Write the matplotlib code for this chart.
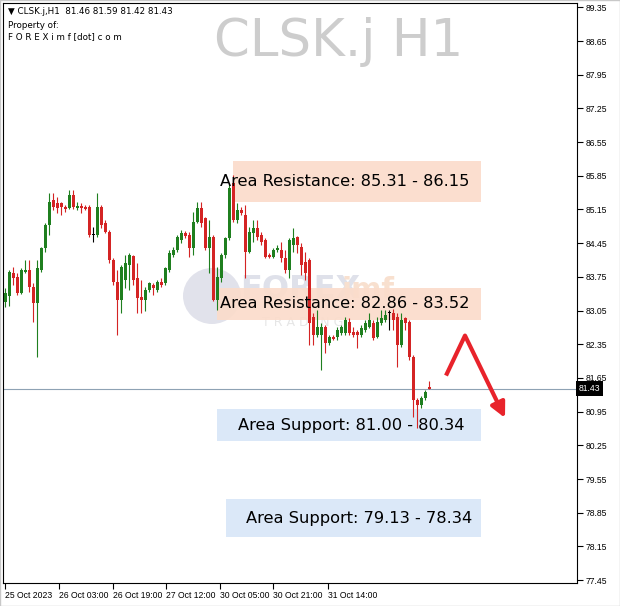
import matplotlib.pyplot as plt
from matplotlib.patches import Rectangle, Ellipse

# H1 candles (oldest first)
opens = [83.23, 83.35, 83.83, 83.75, 83.42, 83.85, 83.89, 83.54, 83.21, 83.89,
         84.35, 84.83, 85.35, 85.29, 85.29, 85.20, 85.18, 85.45, 85.18, 85.22,
         85.20, 85.20, 84.62, 84.62, 85.20, 84.87, 84.68, 84.10, 83.64, 83.27,
         83.68, 84.00, 84.19, 83.73, 83.33, 83.27, 83.48, 83.58, 83.48, 83.64,
         83.62, 83.89, 84.21, 84.31, 84.52, 84.66, 84.62, 84.35, 84.89, 85.18,
         84.97, 84.35, 84.58, 83.27, 83.73, 84.21, 84.56, 85.70, 84.93, 85.14,
         85.04, 84.27, 84.66, 84.77, 84.62, 84.52, 84.21, 84.16, 84.31, 84.31,
         84.14, 83.89, 84.41, 84.58, 84.37, 84.06, 84.10, 82.92, 82.54, 82.54,
         82.71, 82.38, 82.50, 82.50, 82.58, 82.58, 82.81, 82.60, 82.60, 82.54,
         82.65, 82.71, 82.79, 82.50, 82.79, 82.86, 82.99, 83.00, 82.92, 82.34,
         82.90, 82.81, 82.09, 81.19, 81.08, 81.23, 81.46]
highs = [83.52, 83.89, 83.96, 83.83, 83.94, 84.10, 84.10, 83.62, 84.10, 84.37,
         84.87, 85.49, 85.49, 85.41, 85.31, 85.25, 85.56, 85.56, 85.31, 85.29,
         85.25, 85.25, 84.79, 85.49, 85.25, 84.93, 84.72, 84.14, 83.89, 84.00,
         84.21, 84.25, 84.21, 84.04, 83.68, 83.54, 83.64, 83.62, 83.68, 83.73,
         83.96, 84.31, 84.37, 84.62, 84.72, 84.70, 84.68, 85.10, 85.31, 85.31,
         84.99, 84.93, 84.62, 83.96, 84.25, 84.58, 85.70, 85.87, 85.29, 85.20,
         85.25, 84.79, 84.93, 84.93, 84.68, 84.56, 84.25, 84.35, 84.41, 84.48,
         84.31, 84.56, 84.77, 84.60, 84.46, 84.27, 84.14, 83.00, 83.06, 82.79,
         82.75, 82.54, 82.54, 82.71, 82.75, 82.92, 82.90, 82.71, 82.65, 82.75,
         82.86, 83.00, 82.86, 82.92, 83.06, 83.06, 83.06, 83.08, 83.00, 83.00,
         82.92, 82.86, 82.13, 81.23, 81.27, 81.40, 81.59]
lows = [83.13, 83.15, 83.58, 83.37, 83.40, 83.83, 83.44, 82.81, 82.09, 83.85,
        84.27, 84.62, 85.14, 85.08, 85.04, 85.10, 85.16, 85.16, 85.14, 85.08,
        85.14, 84.58, 84.48, 84.58, 84.77, 84.66, 84.04, 83.58, 82.54, 83.00,
        83.52, 83.48, 83.58, 83.00, 83.00, 83.04, 83.44, 83.37, 83.44, 83.54,
        83.58, 83.85, 84.16, 84.27, 84.46, 84.56, 84.16, 84.21, 84.87, 84.79,
        84.31, 83.83, 83.25, 83.06, 83.64, 84.14, 84.52, 84.89, 84.87, 85.04,
        83.73, 84.25, 84.48, 84.52, 84.41, 84.14, 84.14, 84.14, 84.27, 84.06,
        83.83, 83.73, 84.27, 84.25, 83.79, 83.68, 82.34, 82.34, 82.50, 81.81,
        82.17, 82.34, 82.44, 82.44, 82.54, 82.54, 82.54, 82.50, 82.27, 82.50,
        82.60, 82.69, 82.44, 82.48, 82.75, 82.81, 82.65, 82.65, 81.88, 82.30,
        82.65, 82.02, 80.83, 80.62, 81.02, 81.19, 81.42]
closes = [83.42, 83.85, 83.73, 83.42, 83.89, 83.89, 83.54, 83.21, 83.94, 84.35,
          84.83, 85.31, 85.20, 85.18, 85.20, 85.16, 85.45, 85.20, 85.22, 85.18,
          85.16, 84.62, 84.62, 85.20, 84.83, 84.68, 84.10, 83.64, 83.27, 83.96,
          84.04, 84.21, 83.68, 83.31, 83.27, 83.48, 83.62, 83.52, 83.64, 83.58,
          83.94, 84.25, 84.31, 84.58, 84.66, 84.60, 84.35, 84.89, 85.18, 84.87,
          84.35, 84.58, 83.27, 83.75, 84.21, 84.56, 85.60, 84.93, 85.14, 85.08,
          84.27, 84.68, 84.77, 84.58, 84.48, 84.16, 84.16, 84.31, 84.35, 84.14,
          83.89, 84.52, 84.56, 84.41, 84.00, 83.83, 82.79, 82.54, 82.71, 82.71,
          82.38, 82.50, 82.46, 82.65, 82.71, 82.86, 82.58, 82.54, 82.54, 82.69,
          82.79, 82.86, 82.48, 82.81, 82.90, 82.96, 82.99, 82.86, 82.34, 82.86,
          82.79, 82.09, 81.19, 81.08, 81.23, 81.36, 81.43]

time_labels = ["25 Oct 2023", "26 Oct 03:00", "26 Oct 19:00", "27 Oct 12:00",
               "30 Oct 05:00", "30 Oct 21:00", "31 Oct 14:00"]
time_label_bars = [0, 13.5, 27, 40.25, 53.75, 67, 80.75]
price_ticks = [89.35, 88.65, 87.95, 87.25, 86.55, 85.85, 85.15, 84.45, 83.75,
               83.05, 82.35, 81.65, 80.95, 80.25, 79.55, 78.85, 78.15, 77.45]
last_price = 81.43

# zones
zone_labels = ["Area Resistance: 85.31 - 86.15", "Area Resistance: 82.86 - 83.52",
               "Area Support: 81.00 - 80.34", "Area Support: 79.13 - 78.34"]
zone_tops = [86.15, 83.52, 81.00, 79.13]
zone_bottoms = [85.31, 82.86, 80.34, 78.34]
zone_starts = [57, 53, 53, 55.25]
zone_text_x = [53.75, 53.75, 58.25, 60.25]
zone_colors = ["#fbdccb", "#fbdccb", "#d8e7f8", "#d8e7f8"]

# projected move drawn on the chart
arrow_bars = [110.25, 115, 125]
arrow_prices = [81.70, 82.53, 80.82]

BULL = "#1f7f1f"
BEAR = "#d42424"
SMALL = dict(family="Liberation Sans", size=6.2)

fig = plt.figure(figsize=(6.2, 6.06), dpi=100)
ax = fig.add_axes([3 / 620, 23 / 606, 574 / 620, 580 / 606])

# watermark (faint, under everything)
ax.add_patch(Ellipse((212 / 620, 1 - 296 / 606), 58 / 620, 56 / 606,
                     transform=fig.transFigure, facecolor="#e1e2eb",
                     edgecolor="none", zorder=0.5))
ax.text(240 / 620, 1 - 290 / 606, "FOREX", transform=fig.transFigure,
        fontsize=23, fontweight="bold", color="#dfe1ea",
        ha="left", va="center", zorder=0.5)
ax.text(341 / 620, 1 - 290 / 606, "imf", transform=fig.transFigure,
        fontsize=21, fontweight="bold", color="#f8e0cf",
        ha="left", va="center", zorder=0.5)
ax.text(262 / 620, 1 - 323 / 606, "T R A D I N G", transform=fig.transFigure,
        fontsize=9, color="#e6e6e6", ha="left", va="center", zorder=0.5)

# zones
for lab, top, bot, x0, tx, c in zip(zone_labels, zone_tops, zone_bottoms,
                                     zone_starts, zone_text_x, zone_colors):
    ax.add_patch(Rectangle((x0, bot), 119 - x0, top - bot, facecolor=c,
                           edgecolor="none", alpha=0.92, zorder=1))
    ax.text(tx, (top + bot) / 2, lab, fontsize=11.7, color="black",
            ha="left", va="center", zorder=5)

# candles
for i, (o, h, l, c) in enumerate(zip(opens, highs, lows, closes)):
    if c > o:
        col = BULL
    elif c < o:
        col = BEAR
    else:
        col = "black"
    ax.vlines(i, l, h, color=col, lw=0.8, zorder=3)
    ax.bar(i, max(abs(c - o), 0.025), bottom=min(o, c), width=0.75,
           color=col, linewidth=0, zorder=3)

# last price line
ax.axhline(last_price, color="#8ea2b4", lw=0.8, zorder=2)

# arrow
ax.plot(arrow_bars[:2], arrow_prices[:2], color="#e8232b", lw=3,
        solid_capstyle="butt", zorder=4)
ax.annotate("", xy=(arrow_bars[2], arrow_prices[2]),
            xytext=(arrow_bars[1], arrow_prices[1]),
            arrowprops=dict(arrowstyle="-|>", color="#e8232b", lw=3,
                            mutation_scale=22, shrinkA=0, shrinkB=0),
            zorder=4)

ax.set_xlim(-0.5, 143)
ax.set_ylim(77.39, 89.44)

ax.yaxis.tick_right()
ax.set_yticks(price_ticks)
ax.set_yticklabels([f"{p:.2f}" for p in price_ticks], fontdict=SMALL)
ax.set_xticks(time_label_bars)
ax.set_xticklabels(time_labels, ha="left", fontdict=SMALL)
ax.tick_params(axis="both", length=4, width=0.8,
               direction="out", pad=2, colors="black")
for s in ax.spines.values():
    s.set_linewidth(0.8)

# last price tag
ax.text(1.003, last_price, f"{last_price:.2f}", transform=ax.get_yaxis_transform(),
        color="white", ha="left", va="center", zorder=6, fontdict=SMALL,
        bbox=dict(boxstyle="square,pad=0.35", facecolor="black", edgecolor="none"),
        clip_on=False)

# header texts
fig.text(8 / 620, 1 - 12 / 606, "\u25bc CLSK.j,H1  81.46 81.59 81.42 81.43",
         fontsize=6.3, ha="left", va="center")
fig.text(8 / 620, 1 - 25 / 606, "Property of:", fontsize=6.3, ha="left", va="center")
fig.text(8 / 620, 1 - 37 / 606, "F O R E X i m f [dot] c o m", fontsize=6.3,
         ha="left", va="center")
fig.text(339 / 620, 1 - 42 / 606, "CLSK.j H1", fontsize=37, color="#cdcdcd",
         ha="center", va="center")

fig.patches.append(Rectangle((0, 0), 1, 1, transform=fig.transFigure,
                             fill=False, edgecolor="#c8c8c8", lw=1))

fig.savefig("out.png", dpi=100)
